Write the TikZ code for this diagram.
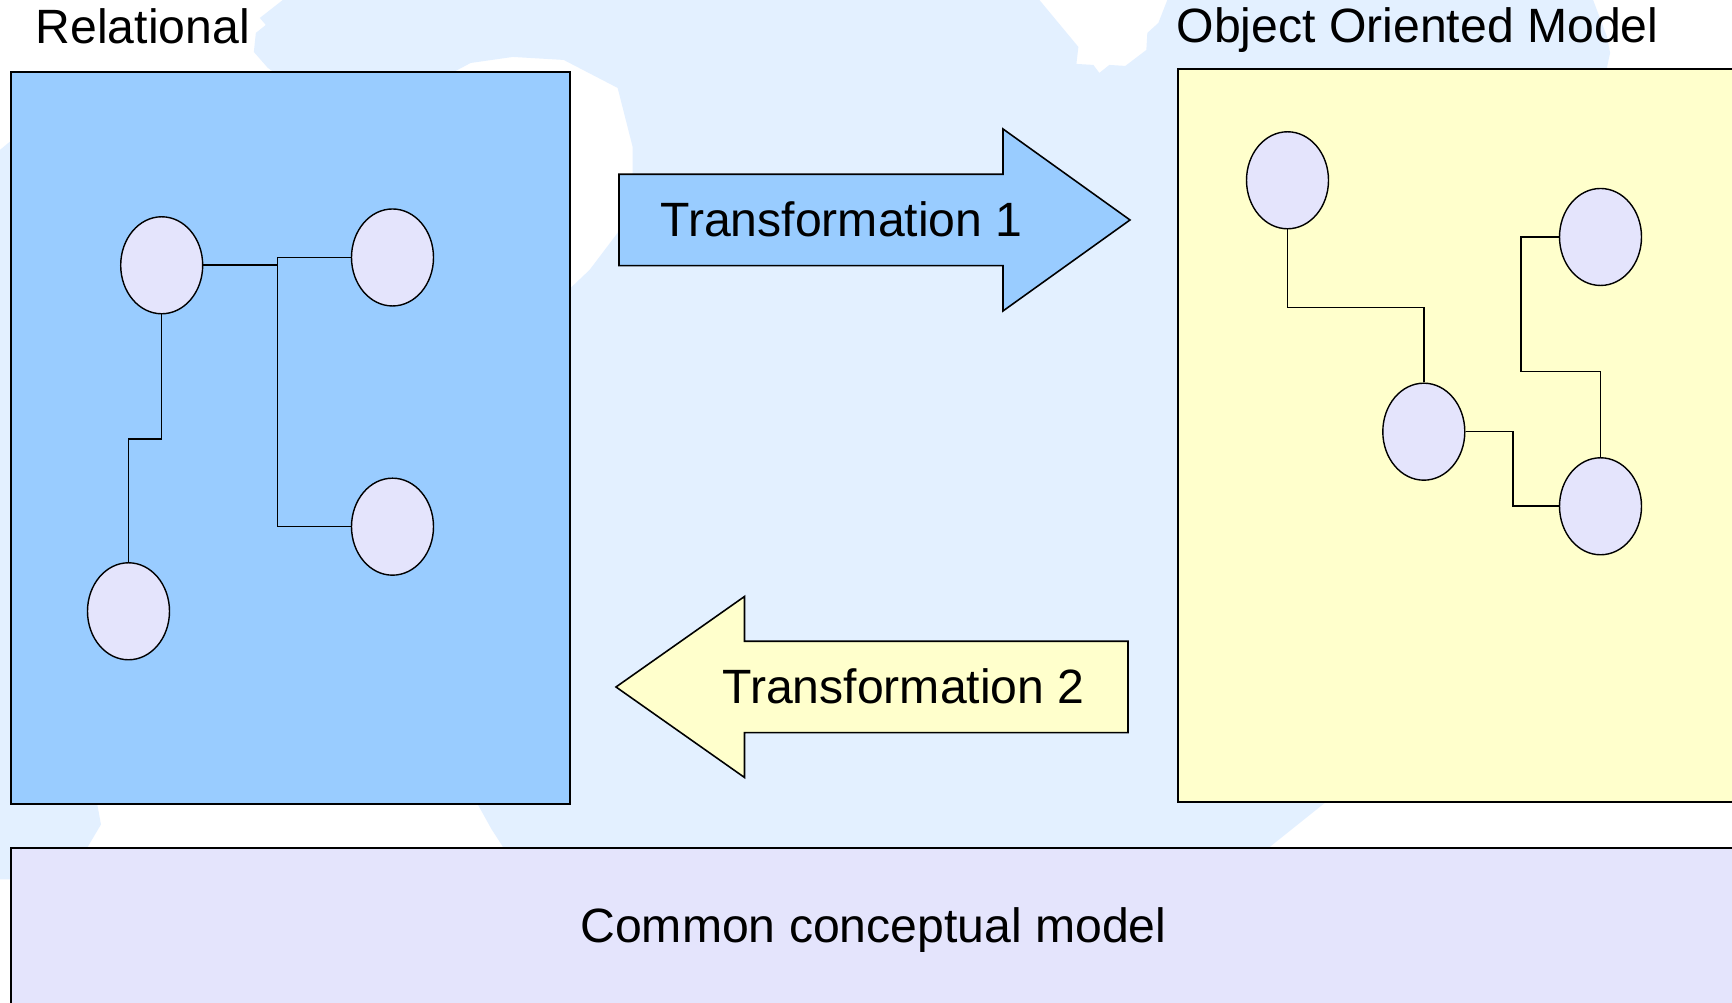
\documentclass[tikz,border=0pt]{standalone}
\usepackage{fontspec}
\setmainfont{Liberation Sans}
\usetikzlibrary{shapes.geometric}
\definecolor{relBlue}{RGB}{153,204,255}
\definecolor{ooYellow}{RGB}{255,255,204}
\definecolor{entityLav}{RGB}{228,228,252}
\definecolor{mapBlue}{RGB}{227,240,255}

\begin{document}
\begin{tikzpicture}[
    panel/.style={rectangle, draw, line width=0.5pt, anchor=north west, inner sep=0pt},
    entity/.style={ellipse, draw, line width=0.4pt, fill=entityLav, minimum width=0.82cm, minimum height=0.97cm, inner sep=0pt},
    title/.style={anchor=base west, inner sep=0pt, font=\fontsize{13.7}{16}\selectfont},
    caption/.style={anchor=base, inner sep=0pt, font=\fontsize{13.7}{16}\selectfont},
    link/.style={line width=0.45pt},
    bigarrow/.style={draw, line width=0.45pt, line join=miter}
]
\useasboundingbox (0,0) rectangle (17.32,10.03);
\clip (0,0) rectangle (17.32,10.03);
\fill[white] (0,0) rectangle (17.32,10.03);

% map in the background (pixel grid, y down)
\begin{scope}[yshift=10.03cm, x=0.01cm, y=-0.01cm]
\fill[mapBlue] (283,0) -- (1040,0) -- (1079,47) -- (1077,64) -- (1094,65) -- (1100,73)
    -- (1110,65) -- (1126,66) -- (1147,50) -- (1148,33) -- (1159,23) -- (1168,0)
    -- (1594,0) -- (1608,37) -- (1611,53) -- (1608,67) -- (1600,200) -- (1400,780)
    -- (1326,803) -- (1271,847) -- (1260,880) -- (505,880) -- (503,847) -- (492,830)
    -- (477,803) -- (470,780) -- (520,320) -- (569,290) -- (590,270) -- (618,233)
    -- (633,173) -- (633,147) -- (618,88) -- (564,60) -- (513,57) -- (471,63)
    -- (420,90) -- (300,90) -- (268,68) -- (254,52) -- (256,33) -- (266,25)
    -- (260,18) -- cycle;
\fill[mapBlue] (0,150) -- (12,140) -- (60,140) -- (60,800) -- (97,803) -- (101,825)
    -- (88,847) -- (80,880) -- (0,880) -- cycle;
\end{scope}

\node[panel, fill=relBlue, minimum width=5.59cm, minimum height=7.32cm] (rel) at (0.10,9.32) {};
\node[panel, fill=ooYellow, minimum width=6cm, minimum height=7.33cm] (oo) at (11.77,9.35) {};
\node[panel, fill=entityLav, minimum width=17.27cm, minimum height=1.62cm] (common) at (0.10,1.56) {};

\node[title] (reltitle) at (0.35,9.59) {Relational};
\node[title] (ootitle) at (11.76,9.60) {Object Oriented Model};
\node[caption] (commontitle) at (8.735,0.60) {Common conceptual model};

\draw[bigarrow, fill=relBlue] (6.19,8.287) -- (10.03,8.287) -- (10.03,8.74) -- (11.30,7.83)
    -- (10.03,6.92) -- (10.03,7.373) -- (6.19,7.373) -- cycle;
\node[caption] (t1) at (8.415,7.66) {Transformation 1};
\draw[bigarrow, fill=ooYellow] (11.28,3.617) -- (7.445,3.617) -- (7.445,4.065) -- (6.16,3.16)
    -- (7.445,2.255) -- (7.445,2.703) -- (11.28,2.703) -- cycle;
\node[caption] (t2) at (9.035,2.99) {Transformation 2};

\node[entity] (r1) at (1.617,7.377) {};
\node[entity] (r2) at (3.925,7.455) {};
\node[entity] (r3) at (3.925,4.763) {};
\node[entity] (r4) at (1.285,3.917) {};
\coordinate (rbar) at (2.773,6);

\node[entity] (o1) at (12.875,8.227) {};
\node[entity] (o2) at (16.005,7.660) {};
\node[entity] (o3) at (14.238,5.713) {};
\node[entity] (o4) at (16.005,4.967) {};

\draw[link] (r1.east) -- (r1.east -| rbar);
\draw[link] (r2.west) -| (rbar |- r3.west) -- (r3.west);
\draw[link] (r1.south) -- ++(0,-1.245) -| (r4.north);

\draw[link] (o1.south) -- ++(0,-0.779) -| (o3.north);
\draw[link] (o3.east) -- ++(0.475,0) |- (o4.west);
\draw[link] (o2.west) -- ++(-0.378,0) -- ++(0,-1.347) -| (o4.north);
\end{tikzpicture}
\end{document}
